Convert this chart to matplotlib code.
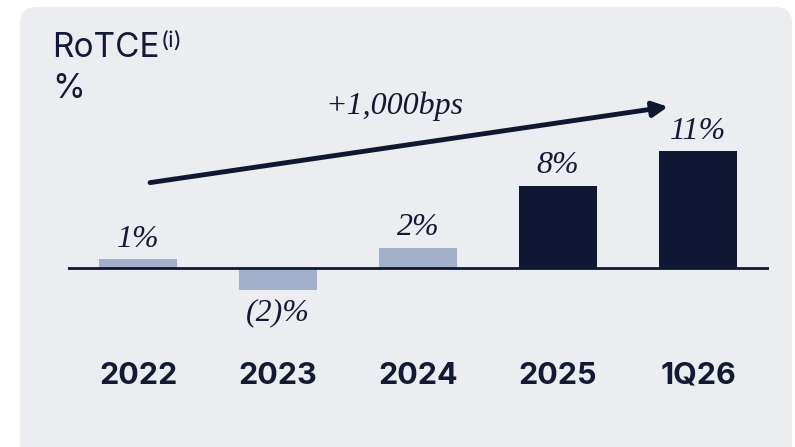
import matplotlib
matplotlib.use("Agg")
import matplotlib.pyplot as plt
from matplotlib.patches import FancyBboxPatch
from matplotlib.transforms import IdentityTransform

categories = ["2022", "2023", "2024", "2025", "1Q26"]
values = [0.85, -2.1, 1.9, 7.8, 11.1]
labels = ["1%", "(2)%", "2%", "8%", "11%"]
highlight = [False, False, False, True, True]

DARK = "#0F1733"
LIGHT = "#A3B0CA"
PANEL = "#ECEDF0"
TEXT = "#141A33"

W, H = 795, 447
fig = plt.figure(figsize=(W / 100, H / 100), dpi=100)
fig.patch.set_facecolor("white")

panel = FancyBboxPatch((20, -30), 772, 470, boxstyle="round,pad=0,rounding_size=16",
                       transform=IdentityTransform(), facecolor=PANEL, edgecolor="none", zorder=-5)
fig.patches.append(panel)

ax_top_px, ax_bot_px = 40, 340
ax = fig.add_axes([68 / W, (H - ax_bot_px) / H, (769 - 68) / W, (ax_bot_px - ax_top_px) / H])
ax.set_zorder(2)
ax.set_facecolor("none")
scale = 10.54
ax.set_xlim(-0.5, 4.507)
ax.set_ylim(-(ax_bot_px - 268) / scale, (268 - ax_top_px) / scale)

x = list(range(len(categories)))
colors = [DARK if h else LIGHT for h in highlight]
ax.bar(x, values, width=0.557, color=colors, zorder=2)
ax.axhline(0, color=DARK, lw=2, zorder=3)

serif = dict(family="Liberation Serif", style="italic", color=TEXT, fontsize=23)
for xi, v, lab in zip(x, values, labels):
    if v >= 0:
        ax.annotate(lab, (xi, v), xytext=(0, 9), textcoords="offset points",
                    ha="center", va="baseline", **serif)
    else:
        ax.annotate(lab, (xi, v), xytext=(0, -6), textcoords="offset points",
                    ha="center", va="top", **serif)

for s in ax.spines.values():
    s.set_visible(False)
ax.set_yticks([])
ax.set_xticks(x)
ax.set_xticklabels(categories, fontfamily="Inter", fontweight="bold", fontsize=22, color=TEXT)
ax.tick_params(axis="x", length=0, pad=15.5)

# trend arrow
ax.annotate("", xy=(3.786, 15.3), xytext=(0.086, 8.1),
            arrowprops=dict(arrowstyle="-|>,head_length=0.9,head_width=0.45", color=DARK, lw=3.5,
                            shrinkA=0, shrinkB=0), zorder=4)
ax.text(1.83, 14.6, "+1,000bps", ha="center", va="baseline", **serif)

# title
t = fig.text(52 / W, (H - 57) / H, "RoTCE", fontfamily="Inter", fontsize=24, color=TEXT, va="baseline")
fig.canvas.draw()
bb = t.get_window_extent(fig.canvas.get_renderer())
fig.text((bb.x1 + 1) / W, (H - 47) / H, "(i)", fontfamily="Inter", fontsize=16, color=TEXT, va="baseline")
fig.text(52 / W, (H - 98) / H, "%", fontfamily="Inter", fontsize=24, color=TEXT, va="baseline")

fig.savefig("out.png", dpi=100, facecolor=fig.get_facecolor())
